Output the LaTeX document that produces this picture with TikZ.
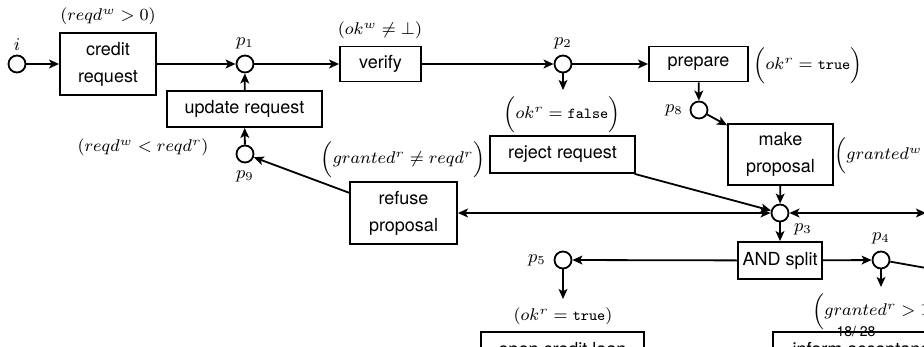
\RequirePackage{fix-cm}
\documentclass[tikz,border=0pt]{standalone}
\usepackage[no-math]{fontspec}
\setmainfont{TeX Gyre Heros}
\setmonofont[Scale=0.9]{Latin Modern Mono}
\usetikzlibrary{arrows.meta}
\begin{document}
\begin{tikzpicture}[x=0.5pt,y=-0.5pt,
  every node/.style={font=\small},
  guard/.style={font=\fontsize{8.5}{10}\selectfont},
  box/.style={draw,line width=0.9pt,inner sep=0pt,align=center},
  place/.style={circle,draw,line width=0.9pt,minimum size=8.5pt,inner sep=0pt},
  tip/.tip={Stealth[length=5pt,width=4.4pt,inset=1.2pt]},
  arr/.style={line width=0.9pt,-tip},
  dbl/.style={line width=0.9pt,tip-tip},
  ln/.style={line width=0.9pt}]
\useasboundingbox (0,0) rectangle (924,347);
\clip (0,0) rectangle (924,347);
% places
\node[place] (i)  at (17,64) {};
\node[place] (p1) at (245,64) {};
\node[place] (p2) at (563,64) {};
\node[place] (p8) at (699,110) {};
\node[place] (p3) at (780,213) {};
\node[place] (p9) at (245,154) {};
\node[place] (p5) at (563,260) {};
\node[place] (p4) at (881,260) {};
% place labels
\node (li)  at (17,45)  {$i$};
\node (lp1) at (245,43) {$p_1$};
\node (lp2) at (563,43) {$p_2$};
\node (lp8) at (674,110) {$p_8$};
\node (lp3) at (803,229) {$p_3$};
\node (lp9) at (245,176) {$p_9$};
\node (lp5) at (537,260) {$p_5$};
\node (lp4) at (881,238) {$p_4$};
% transitions
\node[box,minimum width=48pt,minimum height=31pt] (credit) at (108,64) {credit\\[2.5pt]request};
\node[box,minimum width=77.5pt,minimum height=18pt] (update) at (244.5,109) {update request};
\node[box,minimum width=40.5pt,minimum height=17.5pt] (verify) at (380.5,64) {verify};
\node[box,minimum width=49.5pt,minimum height=17.5pt] (prepare) at (698.5,64) {prepare};
\node[box,minimum width=72.5pt,minimum height=18.5pt] (reject) at (562.5,154.5) {reject request};
\node[box,minimum width=52.5pt,minimum height=30.5pt] (make) at (780.5,154.5) {make\\[2.5pt]proposal};
\node[box,minimum width=53.5pt,minimum height=31pt] (refuse) at (403.5,213) {refuse\\[2.5pt]proposal};
\node[box,minimum width=42pt,minimum height=18.5pt] (and) at (780,260.5) {AND split};
\node[box,minimum width=81.5pt,minimum height=18.5pt] (open) at (562.5,350.5) {open credit loan};
\node[box,minimum width=93pt,minimum height=18.5pt] (inform) at (866,350.5) {inform acceptance};
% guards
\node[guard] (g1) at (108,16) {$(reqd^w > 0)$};
\node[guard] (g2) at (380,30) {$(ok^w \neq \bot)$};
\node[guard] (g3) at (562,114) {$\Bigl(ok^r = \texttt{false}\Bigr)$};
\node[guard] (g4) at (143,147) {$(reqd^w < reqd^r)$};
\node[guard] (g5) at (403,159) {$\Bigl(granted^r \neq reqd^r\Bigr)$};
\node[guard] (g6) at (808,65) {$\Bigl(ok^r = \texttt{true}\Bigr)$};
\node[guard,anchor=west,inner xsep=0pt] (g7) at (834,155) {$\Bigl(granted^w$};
\node[guard] (g8) at (563,316) {$(ok^r = \texttt{true})$};
\node[guard,anchor=west,inner xsep=0pt] (g9) at (812,311) {$\Bigl(granted^r > 10$};
% free ends
\coordinate (c2) at (563,90);
\coordinate (c3) at (926,213);
\coordinate (c4) at (960,274);
\coordinate (c4b) at (881,287);
\coordinate (c5) at (563,299);
% arcs
\draw[arr] (i) -- (credit);
\draw[arr] (credit) -- (p1);
\draw[arr] (p1) -- (verify);
\draw[arr] (verify) -- (p2);
\draw[arr] (p2) -- (prepare);
\draw[arr] (p2) -- (c2);
\draw[arr] (prepare) -- (p8);
\draw[arr] (p8) -- (make);
\draw[arr] (make) -- (p3);
\draw[arr] (reject) -- (p3);
\draw[dbl] (refuse) -- (p3);
\draw[dbl] (p3) -- (c3);
\draw[arr] (p3) -- (and);
\draw[arr] (and) -- (p5);
\draw[arr] (and) -- (p4);
\draw[ln] (p4) -- (c4);
\draw[arr] (p4) -- (c4b);
\draw[arr] (p5) -- (c5);
\draw[arr] (refuse) -- (p9);
\draw[arr] (p9) -- (update);
\draw[arr] (update) -- (p1);
% page number
\node[font=\fontsize{7}{8}\selectfont] (pg) at (856,331.5) {18/ 28};
\end{tikzpicture}
\end{document}
